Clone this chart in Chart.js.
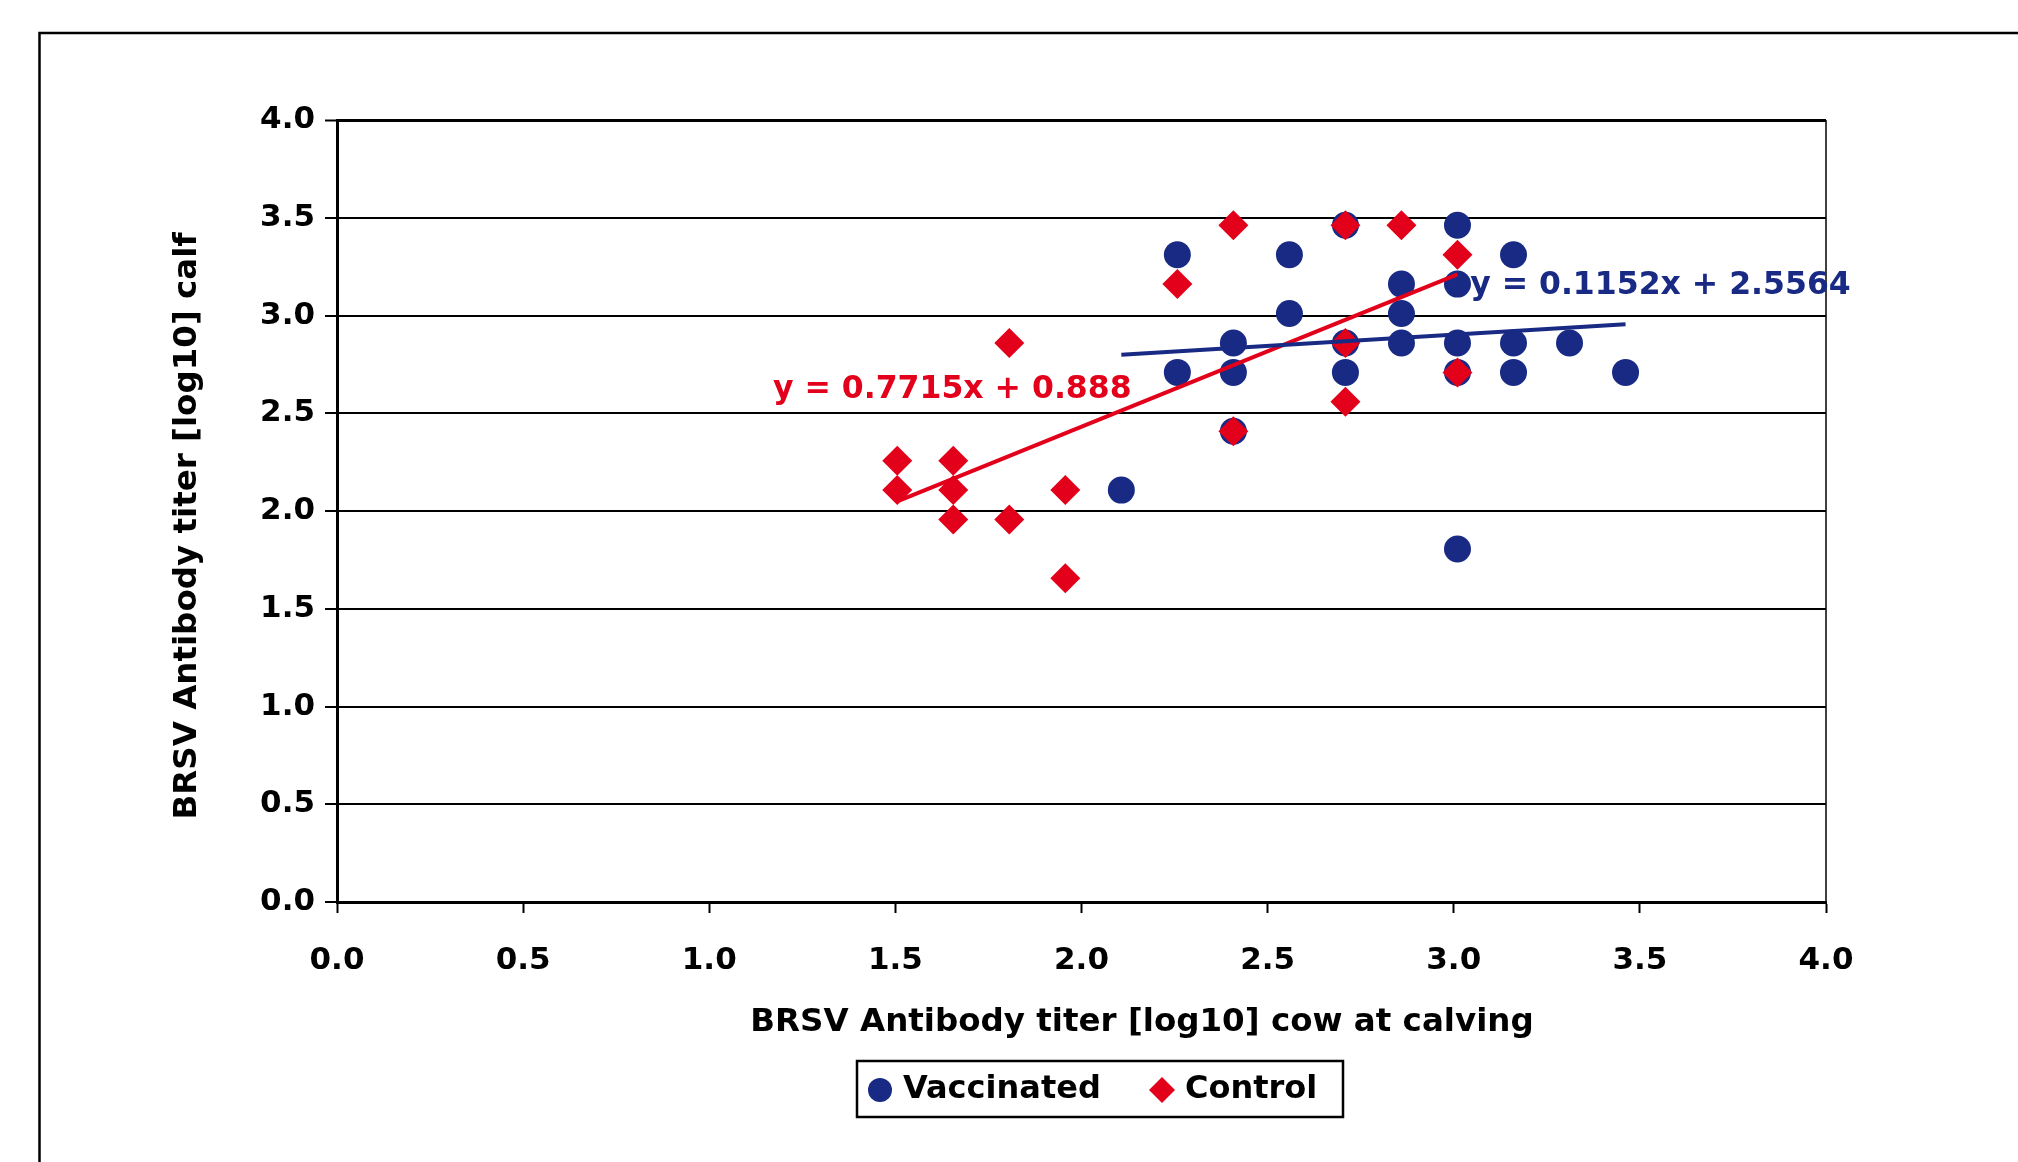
<!DOCTYPE html>
<html><head><meta charset="utf-8">
<script src="https://cdn.jsdelivr.net/npm/chart.js@4.4.0/dist/chart.umd.min.js"></script>
<style>html,body{margin:0;padding:0;background:#fff;}#wrap{width:2018px;height:1162px;position:relative;}</style>
</head><body><div id="wrap"><canvas id="c" width="2018" height="1162"></canvas></div>
<script>
// ---- data (titers fall on half-log2 dilution steps) ----
const vaccinatedX = [2.2575, 2.5585, 2.709, 3.010, 3.1605, 2.8595, 3.010, 2.5585, 2.8595, 2.408, 2.709, 2.8595, 3.010, 3.1605, 3.311, 2.2575, 2.408, 2.709, 3.010, 3.1605, 3.4615, 2.408, 2.107, 3.010];
const vaccinatedY = [3.311, 3.311, 3.4615, 3.4615, 3.311, 3.1605, 3.1605, 3.010, 3.010, 2.8595, 2.8595, 2.8595, 2.8595, 2.8595, 2.8595, 2.709, 2.709, 2.709, 2.709, 2.709, 2.709, 2.408, 2.107, 1.806];
const controlX = [2.408, 2.709, 2.8595, 3.010, 2.2575, 1.806, 2.709, 3.010, 2.709, 2.408, 1.505, 1.6555, 1.505, 1.6555, 1.9565, 1.6555, 1.806, 1.9565];
const controlY = [3.4615, 3.4615, 3.4615, 3.311, 3.1605, 2.8595, 2.8595, 2.709, 2.5585, 2.408, 2.2575, 2.2575, 2.107, 2.107, 2.107, 1.9565, 1.9565, 1.6555];
const vaccTrendX = [2.107, 3.4615];
const vaccTrendY = [2.799, 2.955];
const ctrlTrendX = [1.505, 3.010];
const ctrlTrendY = [2.049, 3.210];
const xTickValues = [0.0, 0.5, 1.0, 1.5, 2.0, 2.5, 3.0, 3.5, 4.0];
const yTickValues = [0.0, 0.5, 1.0, 1.5, 2.0, 2.5, 3.0, 3.5, 4.0];
const seriesNames = ['Vaccinated', 'Control'];
const xTitle = 'BRSV Antibody titer [log10] cow at calving';
const yTitle = 'BRSV Antibody titer [log10] calf';
const vaccEquation = 'y = 0.1152x + 2.5564';
const ctrlEquation = 'y = 0.7715x + 0.888';

// ---- styling ----
const BLUE = '#182a84', RED = '#e3001b';
const FONT = '"DejaVu Sans", sans-serif';
const zip = (xs, ys) => xs.map((x, i) => ({x: x, y: ys[i]}));

const decor = {
  id: 'decor',
  afterDraw(chart) {
    const ctx = chart.ctx, ca = chart.chartArea, sx = chart.scales.x, sy = chart.scales.y;
    ctx.save();
    // outer frame (continues beyond the picture)
    ctx.strokeStyle = '#000'; ctx.lineWidth = 2.5;
    ctx.beginPath(); ctx.moveTo(39.5, 1162); ctx.lineTo(39.5, 33); ctx.lineTo(2018, 33); ctx.stroke();
    // right border of plot
    ctx.lineWidth = 1.5;
    ctx.beginPath(); ctx.moveTo(ca.right, ca.top); ctx.lineTo(ca.right, ca.bottom); ctx.stroke();
    // equations
    ctx.font = 'bold 31.5px ' + FONT; ctx.textBaseline = 'middle'; ctx.textAlign = 'left';
    ctx.fillStyle = RED; ctx.fillText(ctrlEquation, sx.getPixelForValue(1.171), sy.getPixelForValue(2.62));
    ctx.fillStyle = BLUE; ctx.fillText(vaccEquation, sx.getPixelForValue(3.044), sy.getPixelForValue(3.15));
    // axis titles
    ctx.fillStyle = '#000'; ctx.font = 'bold 32.5px ' + FONT; ctx.textAlign = 'center';
    ctx.fillText(xTitle, 1142, 1023);
    ctx.save(); ctx.translate(188, 526); ctx.rotate(-Math.PI / 2); ctx.fillText(yTitle, 0, 0); ctx.restore();
    // legend
    ctx.lineWidth = 2.5; ctx.strokeStyle = '#000';
    ctx.strokeRect(857, 1061, 486, 56);
    ctx.fillStyle = BLUE; ctx.beginPath(); ctx.arc(880, 1090, 12, 0, Math.PI * 2); ctx.fill();
    ctx.fillStyle = RED; ctx.beginPath();
    ctx.moveTo(1162, 1077); ctx.lineTo(1175, 1090); ctx.lineTo(1162, 1103); ctx.lineTo(1149, 1090); ctx.closePath(); ctx.fill();
    ctx.fillStyle = '#000'; ctx.textAlign = 'left'; ctx.font = 'bold 32px ' + FONT;
    ctx.fillText(seriesNames[0], 903, 1090);
    ctx.fillText(seriesNames[1], 1185, 1090);
    ctx.restore();
  }
};

new Chart(document.getElementById('c').getContext('2d'), {
  type: 'scatter',
  data: {
    datasets: [
      {label: seriesNames[0], data: zip(vaccinatedX, vaccinatedY), pointStyle: 'circle', pointRadius: 13.5,
       backgroundColor: BLUE, borderColor: BLUE, borderWidth: 0, order: 4},
      {label: seriesNames[1], data: zip(controlX, controlY), pointStyle: 'rectRot', pointRadius: 15,
       backgroundColor: RED, borderColor: RED, borderWidth: 0, order: 3},
      {label: 'Control trend', data: zip(ctrlTrendX, ctrlTrendY), showLine: true, pointRadius: 0,
       borderColor: RED, borderWidth: 4, fill: false, order: 2},
      {label: 'Vaccinated trend', data: zip(vaccTrendX, vaccTrendY), showLine: true, pointRadius: 0,
       borderColor: BLUE, borderWidth: 4, fill: false, order: 1}
    ]
  },
  options: {
    responsive: false, animation: false, events: [],
    layout: {padding: {left: 40, right: 192, top: 120, bottom: 0}},
    plugins: {legend: {display: false}, tooltip: {enabled: false}},
    scales: {
      x: {
        type: 'linear', min: 0, max: 4,
        afterBuildTicks: s => { s.ticks = xTickValues.map(v => ({value: v})); },
        afterFit: s => { s.height = 260; },
        grid: {drawOnChartArea: false, drawTicks: true, tickLength: 11, tickWidth: 2, tickColor: '#000', color: '#000'},
        border: {display: true, color: '#000', width: 3},
        ticks: {color: '#000', font: {family: FONT, weight: 'bold', size: 31}, padding: 29, maxRotation: 0,
                callback: v => Number(v).toFixed(1)}
      },
      y: {
        type: 'linear', min: 0, max: 4,
        afterBuildTicks: s => { s.ticks = yTickValues.map(v => ({value: v})); },
        afterFit: s => { s.width = 297; },
        grid: {color: '#000', lineWidth: c => (c.tick && c.tick.value === 4) ? 3 : 2,
               drawTicks: true, tickLength: 12, tickWidth: 2, tickColor: '#000'},
        border: {display: true, color: '#000', width: 3},
        ticks: {color: '#000', font: {family: FONT, weight: 'bold', size: 31}, padding: 10,
                callback: v => Number(v).toFixed(1)}
      }
    }
  },
  plugins: [decor]
});
</script></body></html>
